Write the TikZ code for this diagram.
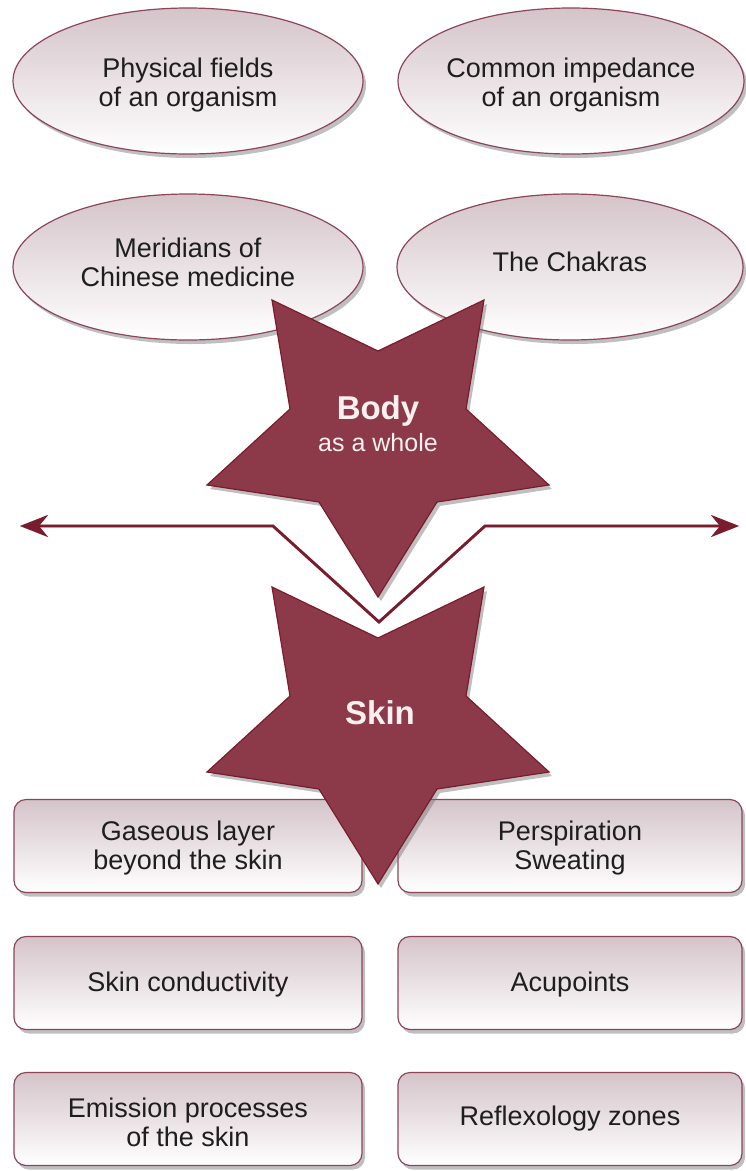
\documentclass[tikz,border=0pt]{standalone}
\usepackage{fontspec}
\setmainfont{Liberation Sans}
\usetikzlibrary{shapes.geometric,shadows,arrows.meta}
\definecolor{maroonfill}{RGB}{140,58,74}
\definecolor{maroonedge}{RGB}{122,28,46}
\definecolor{rim}{RGB}{140,70,88}
\definecolor{topfill}{RGB}{212,196,201}
\definecolor{txt}{RGB}{30,30,30}
\definecolor{startxt}{RGB}{250,240,240}
\tikzset{
  sh/.style={drop shadow={shadow xshift=3pt, shadow yshift=-4pt, opacity=0.45, fill=black!55}},
  oval/.style={ellipse, draw=rim, line width=1.2pt, top color=topfill, bottom color=white,
    minimum width=350pt, minimum height=146pt, inner sep=0pt, sh},
  ovaltext/.style={align=center, text=txt, font=\fontsize{27}{29}\selectfont, inner sep=0pt},
  box/.style={rectangle, rounded corners=12pt, draw=rim, line width=1.2pt, top color=topfill,
    bottom color=white, minimum height=93pt, inner sep=0pt, align=center, text=txt,
    font=\fontsize{27}{29}\selectfont, sh},
  starshape/.style={fill=maroonfill, draw=maroonedge, line width=1.2pt, sh},
  starbold/.style={text=startxt, font=\bfseries\fontsize{33}{36}\selectfont, inner sep=0pt},
  starsmall/.style={text=startxt, font=\fontsize{25}{28}\selectfont, inner sep=0pt},
  linkline/.style={draw=maroonedge, line width=2.8pt, line join=miter,
    {Stealth[length=28pt,width=22pt,inset=9pt]}-{Stealth[length=28pt,width=22pt,inset=9pt]}},
  linkshadow/.style={draw=black!28, line width=2.8pt, line join=miter,
    {Stealth[length=28pt,width=22pt,inset=9pt]}-{Stealth[length=28pt,width=22pt,inset=9pt]}},
}
\newcommand{\starpoly}{(-106,-150) -- (0,-99) -- (106,-150) -- (88,-41) -- (171,35) -- (59,52) -- (0,147) -- (-59,52) -- (-171,35) -- (-88,-41) -- cycle}
\begin{document}
\begin{tikzpicture}[x=1pt,y=-1pt]
\useasboundingbox (0,0) rectangle (746,1171);
\fill[white] (0,0) rectangle (746,1171);

% ellipses
\node[oval] (phys) at (188,81) {};
\node[ovaltext] (physT) at (188,85) {Physical fields\\of an organism};
\node[oval, minimum width=346pt] (imp) at (571,81) {};
\node[ovaltext] (impT) at (571,85) {Common impedance\\of an organism};
\node[oval] (mer) at (188,267) {};
\node[ovaltext] (merT) at (188,262) {Meridians of\\Chinese medicine};
\node[oval, minimum width=346pt] (chak) at (570,267) {};
\node[ovaltext] (chakT) at (570,262) {The Chakras};

% double arrow
\coordinate (aL) at (20,526);
\coordinate (aLc) at (273,526);
\coordinate (apex) at (379,622);
\coordinate (aRc) at (485,526);
\coordinate (aR) at (739,526);
\begin{scope}[shift={(3pt,-4pt)}]
\draw[linkshadow] (aL) -- (aLc) -- (apex) -- (aRc) -- (aR);
\end{scope}
\draw[linkline] (aL) -- (aLc) -- (apex) -- (aRc) -- (aR);

% body star
\coordinate (bodyc) at (378,450);
\draw[starshape, shift={(bodyc)}] \starpoly;
\node[starbold] (body) at (378,411) {Body};
\node[starsmall] (whole) at (378,443) {as a whole};

% boxes
\node[box, minimum width=348pt] (gas) at (188,846) {};
\node[ovaltext] (gasT) at (188,848) {Gaseous layer\\beyond the skin};
\node[box, minimum width=344pt] (persp) at (570,846) {};
\node[ovaltext] (perspT) at (570,848) {Perspiration\\Sweating};
\node[box, minimum width=348pt] (cond) at (188,983) {};
\node[ovaltext] (condT) at (188,985) {Skin conductivity};
\node[box, minimum width=344pt] (acu) at (570,983) {};
\node[ovaltext] (acuT) at (570,985) {Acupoints};
\node[box, minimum width=348pt] (emis) at (188,1119) {};
\node[ovaltext] (emisT) at (188,1122) {Emission processes\\of the skin};
\node[box, minimum width=344pt] (refl) at (570,1119) {};
\node[ovaltext] (reflT) at (570,1119) {Reflexology zones};

% skin star
\coordinate (skinc) at (378,737);
\draw[starshape, shift={(skinc)}] \starpoly;
\node[starbold] (skin) at (380,713) {Skin};
\end{tikzpicture}
\end{document}
